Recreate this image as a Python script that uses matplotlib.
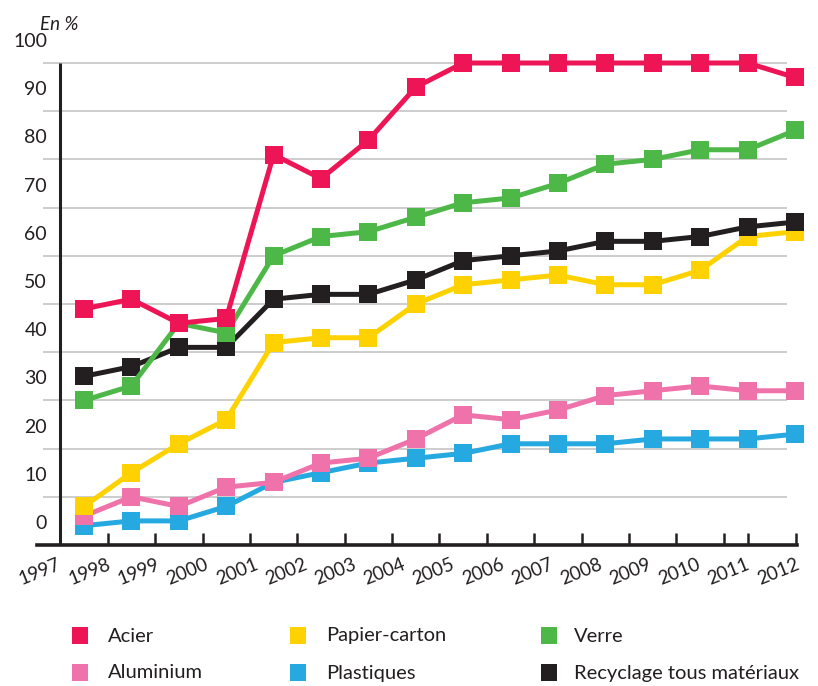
import matplotlib
matplotlib.use("Agg")
import matplotlib.pyplot as plt
from matplotlib.patches import Rectangle

plt.rcParams['font.family'] = ['Lato', 'DejaVu Sans']

years = list(range(1997, 2013))
acier = [49, 51, 46, 47, 81, 76, 84, 95, 100, 100, 100, 100, 100, 100, 100, 97]
verre = [30, 33, 46, 44, 60, 64, 65, 68, 71, 72, 75, 79, 80, 82, 82, 86]
recyclage = [35, 37, 41, 41, 51, 52, 52, 55, 59, 60, 61, 63, 63, 64, 66, 67]
papier = [8, 15, 21, 26, 42, 43, 43, 50, 54, 55, 56, 54, 54, 57, 64, 65]
aluminium = [6, 10, 8, 12, 13, 17, 18, 22, 27, 26, 28, 31, 32, 33, 32, 32]
plastiques = [4, 5, 5, 8, 13, 15, 17, 18, 19, 21, 21, 21, 22, 22, 22, 23]

y_ticks = [0, 10, 20, 30, 40, 50, 60, 70, 80, 90, 100]

legend_rows = [
    [("Acier", "#EE1557"), ("Papier-carton", "#FDD200"), ("Verre", "#4DB748")],
    [("Aluminium", "#F072AA"), ("Plastiques", "#26A9E0"),
     ("Recyclage tous matériaux", "#231F20")],
]

# drawing order: bottom series first
series = [
    (plastiques, "#26A9E0"),
    (aluminium, "#F072AA"),
    (papier, "#FDD200"),
    (recyclage, "#231F20"),
    (verre, "#4DB748"),
    (acier, "#EE1557"),
]

W, H = 818, 686
fig = plt.figure(figsize=(W / 100, H / 100), dpi=100)

# pixel geometry of the plot frame
x_left_px, x_right_px = 37, 797
y_bot_px, y_top_px = 545, 40
px_per_year = 47.4
px_per_unit = 4.82
x0_px = 84  # position of 1997

def px2x(px):
    return 1997 + (px - x0_px) / px_per_year

ax = fig.add_axes([x_left_px / W, 1 - y_bot_px / H,
                   (x_right_px - x_left_px) / W, (y_bot_px - y_top_px) / H])
ax.set_xlim(px2x(x_left_px), px2x(x_right_px))
ax.set_ylim(0, (y_bot_px - y_top_px) / px_per_unit)

for s in ["top", "right", "left"]:
    ax.spines[s].set_visible(False)
ax.spines["bottom"].set_linewidth(2.6)
ax.spines["bottom"].set_color("#231F20")

# horizontal grid
ax.hlines(y_ticks[1:], px2x(43), px2x(787), color="#c9c9c9", lw=1.3, zorder=1)
# vertical axis line
ax.vlines(px2x(60), 0, 100, color="#231F20", lw=2.2, zorder=2)

for vals, col in series:
    ax.plot(years, vals, color=col, lw=3.6, marker="s", markersize=12.5,
            markeredgewidth=0, zorder=3, clip_on=False)

# ticks between years, labels drawn separately
tick_pos = [y + 0.5 for y in years[:-2]] + [2011, px2x(796)]
ax.set_xticks(tick_pos)
ax.set_xticklabels([])
ax.tick_params(axis="x", direction="in", length=9, width=1.8, color="#231F20")
ax.set_yticks([])

for i, yr in enumerate(years):
    cx = px2x(40 + i * 49.2)
    ax.text(cx, -(572 - y_bot_px) / px_per_unit, str(yr), rotation=22,
            ha="center", va="center", fontsize=13.5, color="#231F20",
            clip_on=False)

# y labels sit above their grid line
for v in y_ticks:
    ax.annotate(str(v), xy=(px2x(47), v), xytext=(0, 15.5),
                textcoords="offset points", ha="right", va="center",
                fontsize=14, color="#231F20", annotation_clip=False)

fig.text(40 / W, 1 - 25 / H, "En %", fontsize=13.5, style="italic",
         ha="left", va="center", color="#231F20")

# legend
col_sq = [72, 290, 541]
col_txt = [108, 326, 574]
row_y = [636, 673]
for r, row in enumerate(legend_rows):
    for c, (label, col) in enumerate(row):
        fig.add_artist(Rectangle((col_sq[c] / W, 1 - (row_y[r] + 8) / H),
                                 16 / W, 17 / H, transform=fig.transFigure,
                                 color=col, lw=0))
        fig.text(col_txt[c] / W, 1 - row_y[r] / H, label, fontsize=14.5,
                 ha="left", va="center", color="#231F20")

fig.savefig("out.png", dpi=100)
